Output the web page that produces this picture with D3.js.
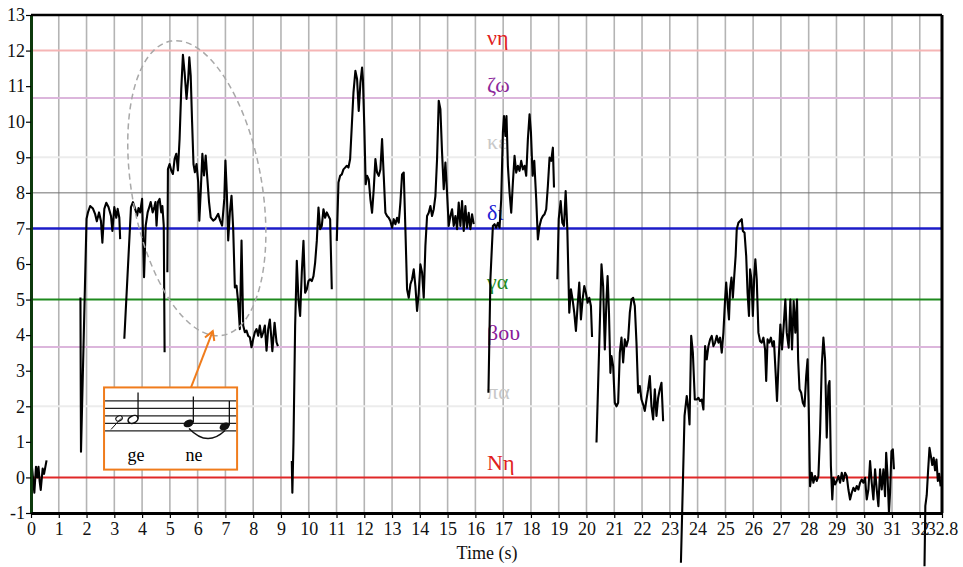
<!DOCTYPE html>
<html><head><meta charset="utf-8">
<script src="https://cdn.jsdelivr.net/npm/d3@7"></script>
<style>body{margin:0;background:#fff} svg{display:block} text{font-family:"Liberation Serif","DejaVu Serif",serif}</style>
</head><body><svg id="c" width="963" height="567"></svg>
<script>
// ---- data ----
const xTicks = d3.range(0, 33).concat([32.8]);
const yTicks = d3.range(-1, 14);
const refLevels = [12, 10.67, 9, 8, 7, 5, 3.67, 2, 0];
const refNames  = ["νη", "ζω", "κε", "", "δι", "γα", "βου", "πα", "Nη"];
const refLineColors = ["#f5b5b5", "#dcb6dc", "#ececec", "#6e6e6e", "#1c1cc8", "#1e8a1e", "#dcb6dc", "#ececec", "#e02828"];
const refLabelColors = ["#e02020", "#8e2a9c", "#c8c8c8", "#000", "#2222d4", "#1e8a1e", "#8a1a9a", "#c8c8c8", "#e02020"];
const refLineWidths = [2, 2, 2, 1, 2.5, 2, 2, 2, 2];
const labelOffsets = [6, 6, 8, 0, 8, 11, 7, 7, 7];

const seg1 = [[0.0,0.1],[0.02,0.4],[0.07,0.0],[0.12,-0.43],[0.18,0.3],[0.23,0.0],[0.27,0.3],[0.31,-0.1],[0.35,-0.35],[0.42,0.25],[0.47,0.1],[0.56,0.48]];
const seg2 = [[1.78,5.06],[1.8,0.72],[2.0,7.27],[2.05,7.45],[2.13,7.63],[2.23,7.56],[2.31,7.4],[2.37,7.2],[2.45,7.45],[2.52,7.2],[2.57,6.6],[2.64,7.55],[2.71,7.72],[2.79,7.6],[2.88,7.35],[2.93,6.93],[3.0,7.6],[3.07,7.3],[3.12,7.55],[3.18,7.3],[3.21,6.7]];
const seg3 = [[3.36,3.9],[3.6,7.6],[3.67,7.74],[3.75,7.55],[3.82,7.36],[3.87,7.57],[3.93,7.45],[4.0,7.83],[4.07,5.63],[4.13,7.08],[4.2,7.45],[4.27,7.63],[4.31,7.74],[4.38,7.45],[4.44,7.6],[4.48,7.74],[4.52,7.08],[4.57,7.74],[4.63,7.83],[4.69,7.45],[4.73,7.63],[4.78,7.08],[4.81,3.52]];
const seg4 = [[4.91,5.77],[4.93,8.67],[4.99,8.81],[5.05,8.63],[5.11,8.53],[5.17,8.95],[5.23,9.1],[5.29,8.63],[5.35,9.52],[5.41,10.92],[5.47,11.88],[5.53,11.39],[5.6,10.64],[5.66,11.2],[5.7,11.81],[5.75,11.3],[5.8,9.99],[5.85,8.81],[5.9,8.58],[5.96,8.81],[6.02,8.3],[6.06,7.22],[6.11,8.02],[6.17,9.1],[6.23,8.49],[6.29,9.05],[6.35,8.39],[6.41,7.74],[6.47,7.31],[6.56,7.22],[6.64,7.27],[6.74,7.41],[6.81,7.22],[6.88,7.08],[6.96,7.83],[7.0,8.91],[7.05,8.02],[7.1,6.66],[7.16,7.45],[7.22,7.92],[7.28,6.99],[7.34,5.34],[7.4,5.39],[7.46,4.92],[7.52,4.17],[7.58,6.66],[7.64,4.27],[7.7,4.08],[7.76,4.13],[7.82,3.98],[7.88,3.94],[7.94,3.66],[8.0,3.89],[8.06,4.08],[8.12,4.17],[8.18,3.98],[8.24,4.27],[8.3,3.94],[8.36,4.08],[8.42,4.27],[8.48,3.56],[8.54,4.17],[8.6,4.44],[8.69,3.55],[8.77,4.35],[8.84,3.8],[8.89,3.69]];
const seg5 = [[9.39,0.46],[9.41,-0.43],[9.45,0.98],[9.51,4.26],[9.57,6.09],[9.63,5.0],[9.69,4.54],[9.75,5.76],[9.81,6.65],[9.87,5.19],[9.93,5.29],[9.99,5.52],[10.05,5.57],[10.11,5.52],[10.17,5.66],[10.23,6.04],[10.29,6.65],[10.35,7.59],[10.41,6.98],[10.47,7.07],[10.53,7.54],[10.59,7.3],[10.65,7.45],[10.71,7.35],[10.77,7.26],[10.83,5.29]];
const seg6 = [[11.01,6.65],[11.07,8.29],[11.13,8.48],[11.19,8.52],[11.25,8.66],[11.31,8.71],[11.37,8.76],[11.43,8.71],[11.49,8.95],[11.55,9.88],[11.61,10.82],[11.68,11.43],[11.74,11.2],[11.8,10.3],[11.86,11.1],[11.92,11.52],[11.95,11.2],[12.0,9.88],[12.05,8.24],[12.1,8.48],[12.16,8.38],[12.22,7.82],[12.28,7.44],[12.34,8.1],[12.4,8.95],[12.46,8.57],[12.52,8.48],[12.58,8.66],[12.64,9.51],[12.7,8.48],[12.76,7.44],[12.82,7.35],[12.88,7.3],[12.94,7.21],[13.0,7.02],[13.06,7.26],[13.12,7.12],[13.18,7.3],[13.24,7.16],[13.3,7.73],[13.36,8.52],[13.42,8.57],[13.48,6.98],[13.54,5.29],[13.6,5.05],[13.66,5.43],[13.72,5.57],[13.78,5.85],[13.84,5.38],[13.9,4.68],[13.96,5.19],[14.02,5.99],[14.08,5.76],[14.14,5.05],[14.2,6.51],[14.26,7.35],[14.32,7.44],[14.38,7.63],[14.44,7.35],[14.5,7.54],[14.56,7.91],[14.62,8.95],[14.68,10.59],[14.74,10.35],[14.8,9.13],[14.86,8.1],[14.92,8.85],[14.98,8.0],[15.04,7.07],[15.1,7.35],[15.16,7.54],[15.22,7.07],[15.28,7.35],[15.34,6.98],[15.4,7.73],[15.46,7.07],[15.52,7.77],[15.58,6.93],[15.64,7.63],[15.7,7.02],[15.76,7.44],[15.82,6.98],[15.88,7.4],[15.94,7.12]];
const seg7 = [[16.47,2.38],[16.54,5.57],[16.63,7.07],[16.69,7.12],[16.75,7.02],[16.81,7.16],[16.87,7.02],[16.93,7.82],[16.99,9.7],[17.03,10.16],[17.08,9.6],[17.12,10.16],[17.17,8.76],[17.23,8.01],[17.29,7.44],[17.35,8.29],[17.41,9.04],[17.47,8.57],[17.53,8.76],[17.59,8.62],[17.65,8.9],[17.71,8.66],[17.77,8.76],[17.83,8.48],[17.89,9.51],[17.95,10.21],[18.0,9.7],[18.06,8.48],[18.12,8.9],[18.19,7.82],[18.25,6.69],[18.31,7.07],[18.37,7.26],[18.43,7.35],[18.49,7.4],[18.55,7.54],[18.61,8.2],[18.67,8.99],[18.73,8.9],[18.79,9.27],[18.83,8.15]];
const seg8 = [[18.95,5.57],[19.0,7.26],[19.07,7.77],[19.13,7.16],[19.19,7.07],[19.25,8.05],[19.31,6.98],[19.38,4.63],[19.44,5.29],[19.5,5.0],[19.56,4.63],[19.62,4.12],[19.68,4.82],[19.74,5.48],[19.8,4.44],[19.86,5.0],[19.92,5.38],[19.98,5.19],[20.04,4.91],[20.1,5.05],[20.16,4.82],[20.2,3.95]];
const seg9 = [[20.36,0.98],[20.54,5.99],[20.6,5.38],[20.66,3.6],[20.72,5.0],[20.76,5.66],[20.81,4.63],[20.86,2.94],[20.9,3.41],[20.96,3.13],[21.02,2.1],[21.08,2.0],[21.14,2.1],[21.2,3.5],[21.26,3.93],[21.32,3.23],[21.38,3.88],[21.44,3.69],[21.5,3.88],[21.56,4.63],[21.62,5.0],[21.68,5.05],[21.74,4.82],[21.8,3.79],[21.86,2.38],[21.92,2.57],[21.98,2.19],[22.04,2.05],[22.1,1.87],[22.16,2.19],[22.22,2.48],[22.28,2.85],[22.34,2.0],[22.4,1.63],[22.46,2.48],[22.52,1.73],[22.58,2.24],[22.64,2.48],[22.7,2.66],[22.76,1.58]];
const seg10 = [[23.4,-2.4],[23.53,1.73],[23.61,2.29],[23.67,1.91],[23.71,1.49],[23.77,3.98],[23.83,3.51],[23.9,2.19],[23.97,2.19],[24.03,2.24],[24.09,2.15],[24.15,2.19],[24.21,1.91],[24.27,3.69],[24.33,3.32],[24.39,3.69],[24.45,3.88],[24.51,3.98],[24.57,3.69],[24.63,3.79],[24.69,3.98],[24.75,3.79],[24.81,3.93],[24.87,3.51],[24.93,4.07],[24.99,5.0],[25.03,5.48],[25.08,4.91],[25.13,4.44],[25.17,5.29],[25.22,5.62],[25.27,5.05],[25.32,5.66],[25.37,6.23],[25.41,6.98],[25.47,7.16],[25.53,7.21],[25.59,7.26],[25.63,6.93],[25.69,6.88],[25.75,6.23],[25.8,5.19],[25.85,4.54],[25.89,5.85],[25.94,5.57],[25.99,4.54],[26.04,5.66],[26.08,6.13],[26.13,5.57],[26.19,4.07],[26.25,3.83],[26.31,3.79],[26.37,3.93],[26.43,3.6],[26.47,2.71],[26.52,3.88],[26.58,3.79],[26.64,3.93],[26.7,3.69],[26.75,3.83],[26.81,2.94],[26.86,2.15],[26.92,3.32],[26.98,4.3],[27.04,3.6],[27.1,4.26],[27.16,5.0],[27.21,4.07],[27.28,3.65],[27.34,5.0],[27.4,3.6],[27.46,4.96],[27.52,4.07],[27.58,5.0],[27.62,3.32],[27.67,2.48],[27.73,2.38],[27.79,2.1],[27.85,2.0],[27.91,2.85],[27.96,3.32],[28.0,2.0],[28.05,-0.25],[28.11,0.13],[28.17,-0.15],[28.23,0.04],[28.29,-0.1],[28.35,0.04],[28.41,1.26],[28.47,3.13],[28.53,3.93],[28.59,3.32],[28.65,1.12],[28.71,2.57],[28.75,2.71],[28.8,0.32],[28.85,-0.62],[28.89,-0.01],[28.95,-0.2],[29.01,-0.1],[29.07,0.04],[29.13,-0.15],[29.19,0.13],[29.25,-0.1],[29.31,0.13],[29.37,0.04],[29.43,-0.34],[29.49,-0.62],[29.55,-0.43],[29.61,-0.29],[29.67,-0.38],[29.73,-0.24],[29.79,-0.34],[29.85,-0.15],[29.91,-0.06],[29.97,-0.15],[30.03,-0.01],[30.09,-0.62],[30.15,-0.34],[30.21,0.46],[30.27,-0.15],[30.33,-0.62],[30.39,0.23],[30.45,-0.34],[30.51,-0.81],[30.57,0.23],[30.63,-0.34],[30.69,0.23],[30.75,-0.53],[30.79,0.69],[30.84,0.04],[30.89,-0.99],[30.93,-0.43],[30.98,0.74],[31.03,0.79],[31.07,0.23]];
const seg11 = [[32.17,-2.5],[32.2,-0.8],[32.25,-0.5],[32.3,0.2],[32.35,0.83],[32.4,0.6],[32.45,0.35],[32.5,0.55],[32.55,0.2],[32.6,0.5],[32.65,-0.1],[32.7,0.1],[32.75,-0.25]];
const segments = [seg1, seg2, seg3, seg4, seg5, seg6, seg7, seg8, seg9, seg10, seg11];

// ---- chart ----
const serif = "'Liberation Serif', 'DejaVu Serif', serif";
const svg = d3.select("#c");
const x = d3.scaleLinear().domain([0, 32.8]).range([31, 942]);
const y = d3.scaleLinear().domain([-1, 13]).range([513, 15]);

// vertical grid
svg.append("g").selectAll("line").data(d3.range(1, 33)).join("line")
  .attr("x1", d => x(d)).attr("x2", d => x(d))
  .attr("y1", y(13)).attr("y2", y(-1))
  .attr("stroke", "#b4b4b4").attr("stroke-width", 1.6);

// reference lines
svg.append("g").selectAll("line").data(refLevels).join("line")
  .attr("x1", x(0)).attr("x2", x(32.8))
  .attr("y1", d => y(d)).attr("y2", d => y(d))
  .attr("stroke", (d, i) => refLineColors[i])
  .attr("stroke-width", (d, i) => refLineWidths[i]);

// reference labels
svg.append("g").selectAll("text").data(refLevels).join("text")
  .attr("x", x(16.42))
  .attr("y", (d, i) => y(d) - labelOffsets[i])
  .attr("fill", (d, i) => refLabelColors[i])
  .attr("font-family", serif)
  .attr("font-size", 22)
  .text((d, i) => refNames[i]);

// pitch contour
const line = d3.line().x(d => x(d[0])).y(d => y(d[1]));
svg.append("g").selectAll("path").data(segments).join("path")
  .attr("d", line).attr("fill", "none")
  .attr("stroke", "#000").attr("stroke-width", 2.1)
  .attr("stroke-linejoin", "round");

// dashed ellipse annotation
const ell = {cx: 5.97, cy: 8.13, rx: 2.34, ry: 4.2, rot: -10};
svg.append("ellipse")
  .attr("cx", x(ell.cx)).attr("cy", y(ell.cy))
  .attr("rx", x(ell.rx) - x(0)).attr("ry", y(0) - y(ell.ry))
  .attr("transform", `rotate(${ell.rot},${x(ell.cx)},${y(ell.cy)})`)
  .attr("fill", "none").attr("stroke", "#a8a8a8")
  .attr("stroke-width", 1.5).attr("stroke-dasharray", "6,4");

// inset with music notation
const orange = "#f07c1c";
const bx = x(2.63), by = y(2.53), bw = x(7.42) - x(2.63), bh = y(0.22) - y(2.53);
const ins = svg.append("g").attr("transform", `translate(${bx},${by})`);
ins.append("rect").attr("width", bw).attr("height", bh)
  .attr("fill", "#fff").attr("stroke", orange).attr("stroke-width", 2);
[13.5, 21, 28.5, 36, 43.5].forEach(sy => {
  ins.append("line").attr("x1", 1).attr("x2", bw - 1).attr("y1", sy).attr("y2", sy)
    .attr("stroke", "#222").attr("stroke-width", 1.2);
});
ins.append("ellipse").attr("cx", 15).attr("cy", 31).attr("rx", 3.4).attr("ry", 2.5)
  .attr("transform", "rotate(-25,15,31)").attr("fill", "#fff").attr("stroke", "#111").attr("stroke-width", 1.1);
ins.append("line").attr("x1", 7).attr("y1", 42).attr("x2", 17).attr("y2", 31).attr("stroke", "#111").attr("stroke-width", 1);
ins.append("ellipse").attr("cx", 29).attr("cy", 32).attr("rx", 5.2).attr("ry", 3.6)
  .attr("transform", "rotate(-25,29,32)").attr("fill", "#fff").attr("stroke", "#111").attr("stroke-width", 1.6);
ins.append("line").attr("x1", 34).attr("x2", 34).attr("y1", 31).attr("y2", 5).attr("stroke", "#111").attr("stroke-width", 1.3);
[[84.5, 36, 9], [120.5, 39, 13.5]].forEach(([nx, ny, top]) => {
  ins.append("ellipse").attr("cx", nx).attr("cy", ny).attr("rx", 5.2).attr("ry", 3.6)
    .attr("transform", `rotate(-25,${nx},${ny})`).attr("fill", "#111");
  ins.append("line").attr("x1", nx + 4.8).attr("x2", nx + 4.8).attr("y1", ny - 1).attr("y2", top)
    .attr("stroke", "#111").attr("stroke-width", 1.3);
});
ins.append("path").attr("d", "M85,41 Q103,60 121,43").attr("fill", "none")
  .attr("stroke", "#111").attr("stroke-width", 1.4);
ins.append("text").attr("x", 32).attr("y", 74).attr("text-anchor", "middle").attr("font-family", serif).attr("font-size", 18).text("ge");
ins.append("text").attr("x", 90).attr("y", 74).attr("text-anchor", "middle").attr("font-family", serif).attr("font-size", 18).text("ne");
const a0 = [87, 0], a1 = [108.7, -56.3];
const ang = Math.atan2(a1[1] - a0[1], a1[0] - a0[0]);
const hl = 10, ha = Math.PI / 6;
ins.append("line").attr("x1", a0[0]).attr("y1", a0[1]).attr("x2", a1[0]).attr("y2", a1[1])
  .attr("stroke", orange).attr("stroke-width", 2);
ins.append("path")
  .attr("d", `M${a1[0] - hl * Math.cos(ang - ha)},${a1[1] - hl * Math.sin(ang - ha)} L${a1[0]},${a1[1]} L${a1[0] - hl * Math.cos(ang + ha)},${a1[1] - hl * Math.sin(ang + ha)}`)
  .attr("fill", "none").attr("stroke", orange).attr("stroke-width", 2);

// axes
const yAxis = svg.append("g").attr("transform", `translate(${x(0)},0)`)
  .call(d3.axisLeft(y).tickValues(yTicks).tickSize(5).tickSizeOuter(0).tickPadding(1).tickFormat(d => String(d)));
yAxis.select(".domain").attr("stroke", "#0d3a0d").attr("stroke-width", 3);
yAxis.selectAll(".tick line").attr("stroke", "#000").attr("stroke-width", 1.2);
yAxis.selectAll("text").attr("font-size", 18).attr("font-family", serif).attr("fill", "#111");

const xAxis = svg.append("g").attr("transform", `translate(0,${y(-1)})`)
  .call(d3.axisBottom(x).tickValues(xTicks).tickSize(5).tickSizeOuter(0).tickPadding(4).tickFormat(d => String(d)));
xAxis.select(".domain").attr("stroke", "#000").attr("stroke-width", 3);
xAxis.selectAll(".tick line").attr("stroke", "#000").attr("stroke-width", 1.2);
xAxis.selectAll("text").attr("font-size", 18).attr("font-family", serif).attr("fill", "#111");

svg.append("line").attr("x1", x(0)).attr("x2", x(32.8)).attr("y1", y(13)).attr("y2", y(13))
  .attr("stroke", "#000").attr("stroke-width", 2.5);
svg.append("line").attr("x1", x(32.8)).attr("x2", x(32.8)).attr("y1", y(13)).attr("y2", y(-1))
  .attr("stroke", "#000").attr("stroke-width", 3);

svg.append("text").attr("x", 487).attr("y", 559).attr("text-anchor", "middle")
  .attr("font-family", serif).attr("font-size", 18).attr("fill", "#111").text("Time (s)");
</script></body></html>
